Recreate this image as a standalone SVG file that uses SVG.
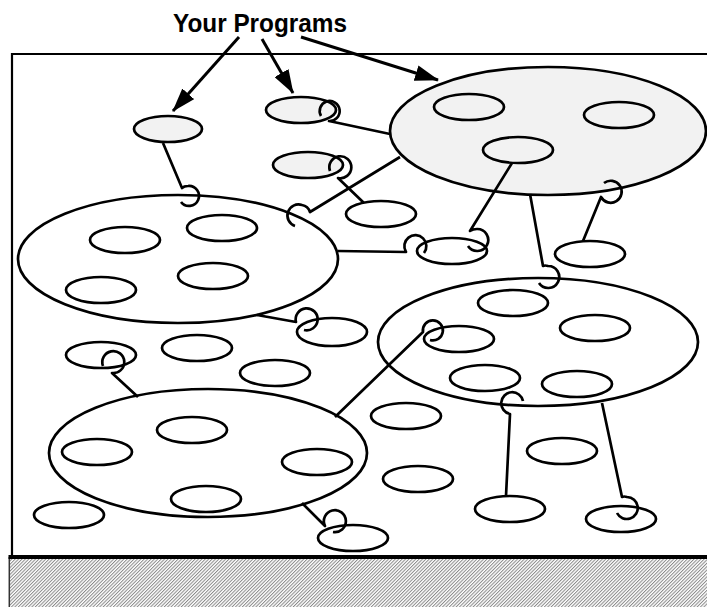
<svg xmlns="http://www.w3.org/2000/svg" width="707" height="607" viewBox="0 0 707 607">
<style>
.e{fill:none;stroke:#000;stroke-width:2.7}
.g{fill:#f2f2f2;stroke:#000;stroke-width:2.7}
.w{fill:#fff;stroke:#000;stroke-width:2.7}
.c{fill:none;stroke:#000;stroke-width:2.7;stroke-linejoin:round}
.a{fill:none;stroke:#000;stroke-width:3}
.t{font-family:"Liberation Sans",Arial,Helvetica,sans-serif;font-weight:bold;font-size:25px}
</style>
<defs>
<marker id="ah" markerUnits="userSpaceOnUse" markerWidth="24" markerHeight="16" refX="23" refY="8" orient="auto"><path d="M0,0 L24,8 L0,16 z" fill="#000"/></marker>
<pattern id="hatch" patternUnits="userSpaceOnUse" width="2.4" height="2.4" patternTransform="rotate(45)"><rect width="2.4" height="2.4" fill="#fff"/><rect width="1" height="2.4" fill="#8a8a8a"/></pattern>
</defs>
<g id="frame">
<rect x="10" y="559" width="697" height="48" fill="url(#hatch)"/>
<line x1="9.3" y1="557" x2="9.3" y2="607" stroke="#333" stroke-width="1.5"/>
<path d="M707,54 H12 V557" fill="none" stroke="#000" stroke-width="2.2"/>
<line x1="8.5" y1="557" x2="707" y2="557" stroke="#000" stroke-width="4"/>
</g>
<g id="label"><text class="t" x="173" y="32" textLength="174" lengthAdjust="spacingAndGlyphs">Your Programs</text></g>
<g id="arrows">
<line class="a" x1="239" y1="37" x2="173" y2="111" marker-end="url(#ah)"/>
<line class="a" x1="262" y1="39" x2="293" y2="93" marker-end="url(#ah)"/>
<line class="a" x1="301" y1="37" x2="438" y2="80" marker-end="url(#ah)"/>
</g>
<g id="bigGray">
<ellipse class="g" cx="548" cy="131" rx="158" ry="64"/>
<ellipse class="g" cx="469" cy="107" rx="35" ry="13"/>
<ellipse class="g" cx="619" cy="115" rx="35" ry="13"/>
<ellipse class="g" cx="518" cy="150" rx="35" ry="13"/>
</g>
<g id="bigLeft">
<ellipse class="w" cx="178" cy="259" rx="160" ry="64"/>
<ellipse class="e" cx="125" cy="240" rx="35" ry="13"/>
<ellipse class="e" cx="222" cy="228" rx="35" ry="13"/>
<ellipse class="e" cx="101" cy="290" rx="35" ry="13"/>
<ellipse class="e" cx="213" cy="276" rx="35" ry="13"/>
</g>
<g id="bigRight">
<ellipse class="w" cx="538" cy="342" rx="160" ry="64"/>
<ellipse class="e" cx="513" cy="303" rx="35" ry="13"/>
<ellipse class="e" cx="595" cy="328" rx="35" ry="13"/>
<ellipse class="e" cx="459" cy="339" rx="35" ry="13"/>
<ellipse class="e" cx="485" cy="378" rx="35" ry="13"/>
<ellipse class="e" cx="577" cy="384" rx="35" ry="13"/>
</g>
<g id="bigBottom">
<ellipse class="w" cx="208" cy="453" rx="159" ry="64"/>
<ellipse class="e" cx="192" cy="430" rx="35" ry="13"/>
<ellipse class="e" cx="97" cy="452" rx="35" ry="13"/>
<ellipse class="e" cx="317" cy="462" rx="35" ry="13"/>
<ellipse class="e" cx="206" cy="499" rx="35" ry="13"/>
</g>
<g id="prog1"><ellipse class="g" cx="168" cy="129" rx="34" ry="13"/></g>
<g id="prog2"><ellipse class="g" cx="301" cy="110" rx="35" ry="13"/></g>
<g id="prog3"><ellipse class="g" cx="308" cy="165" rx="35" ry="13"/></g>
<g id="n1"><ellipse class="e" cx="101" cy="355" rx="35" ry="13"/></g>
<g id="n2"><ellipse class="e" cx="197" cy="348" rx="35" ry="13"/></g>
<g id="n3"><ellipse class="e" cx="275" cy="373" rx="35" ry="13"/></g>
<g id="n4"><ellipse class="e" cx="332" cy="332" rx="35" ry="14"/></g>
<g id="n5"><ellipse class="e" cx="381" cy="214" rx="35" ry="13"/></g>
<g id="n6"><ellipse class="e" cx="452" cy="251" rx="35" ry="13"/></g>
<g id="n7"><ellipse class="e" cx="590" cy="254" rx="35" ry="13"/></g>
<g id="n8"><ellipse class="e" cx="406" cy="416" rx="35" ry="13"/></g>
<g id="n9"><ellipse class="e" cx="562" cy="451" rx="35" ry="13"/></g>
<g id="n10"><ellipse class="e" cx="418" cy="479" rx="35" ry="13"/></g>
<g id="n11"><ellipse class="e" cx="510" cy="509" rx="35" ry="13"/></g>
<g id="n12"><ellipse class="e" cx="621" cy="519" rx="35" ry="13"/></g>
<g id="n13"><ellipse class="e" cx="69" cy="515" rx="35" ry="13"/></g>
<g id="n14"><ellipse class="e" cx="353" cy="538" rx="35" ry="13"/></g>
<g id="connectors">
<path class="c" d="M163,143 L182,188 Q184,186 188,186 A10,10 0 1 1 181,202"/>
<path class="c" d="M321,116 A10,10 0 1 1 329,121 L390,134"/>
<path class="c" d="M330,171 A11,11 0 1 1 338,178 L364,203"/>
<path class="c" d="M400,157 L310,212 Q308,206 302,205 A11,11 0 1 0 295,226"/>
<path class="c" d="M338,251 L406,252 A11,11 0 1 1 424,253"/>
<path class="c" d="M512,163 L470,231 Q473,229 477,229 A11,11 0 1 1 468,246"/>
<path class="c" d="M530,194 L543,266 Q545,265 548,266 A11,11 0 1 1 539,283"/>
<path class="c" d="M583,241 L601,197 A11,11 0 1 0 604,183"/>
<path class="c" d="M257,315 L296,322 A11,11 0 1 1 304,330"/>
<path class="c" d="M335,417 L423,332 A10,10 0 1 1 430,340"/>
<path class="c" d="M103,366 A11,11 0 1 1 112,373 L138,397"/>
<path class="c" d="M302,503 L325,526 A11,11 0 1 1 333,532"/>
<path class="c" d="M523,401 A11,11 0 1 0 510,414 L506,496"/>
<path class="c" d="M602,403 L622,497 Q624,496 627,497 A11,11 0 1 1 617,513"/>
</g>
</svg>
